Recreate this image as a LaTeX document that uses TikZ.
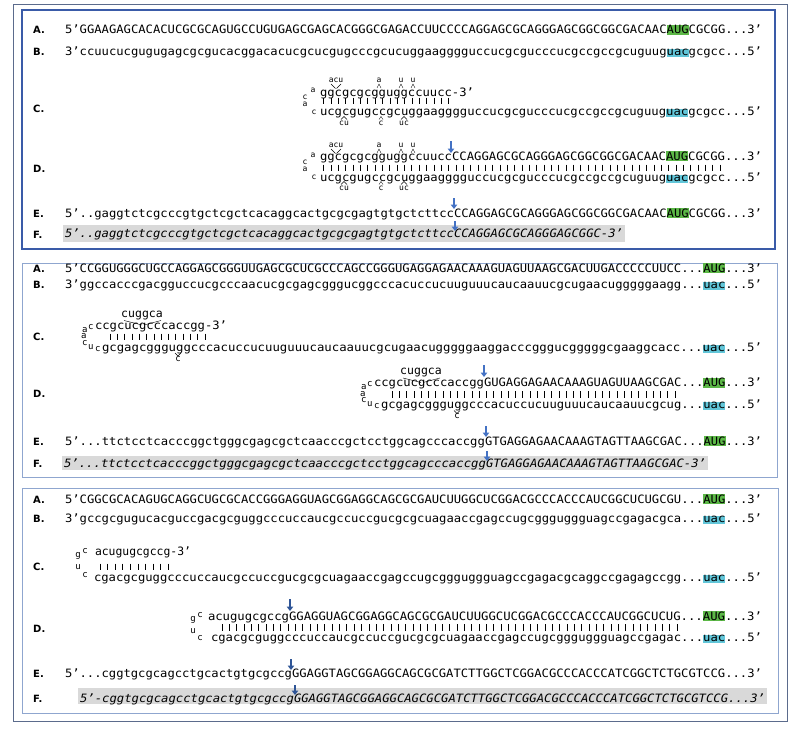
\documentclass[tikz,border=0pt]{standalone}
\usepackage{fontspec}
\setmainfont{DejaVu Sans}
\setmonofont[Ligatures=TeX]{DejaVu Sans Mono}
\usepackage{graphicx}
\usetikzlibrary{arrows.meta}
\definecolor{augg}{HTML}{5CB847}
\definecolor{uacc}{HTML}{62C6D9}
\definecolor{fgray}{HTML}{D9D9D9}
\definecolor{arrb}{HTML}{4472C4}
\definecolor{arrd}{HTML}{2F5597}
\definecolor{panA}{HTML}{3A5BA8}
\definecolor{panB}{HTML}{8FA6CF}
\definecolor{outerc}{HTML}{5B6B8C}
\newcommand\hlA[1]{{\setlength\fboxsep{0pt}\colorbox{augg}{\rule[-1.2pt]{0pt}{9.8pt}#1}}}
\newcommand\hlU[1]{{\setlength\fboxsep{0pt}\colorbox{uacc}{\rule[-1.8pt]{0pt}{8pt}#1}}}
\newcommand\seqline[5]{\pgfmathsetlengthmacro\sqw{(#3)-(#2)}\node[seqn] (#1) at (#2,#4) {\resizebox{\sqw}{\height}{#5}};}
\newcommand\rowlab[3]{\node[labn] (#1) at (33,#2) {#3};}
\newcommand\hpl[3]{\node[smn] at (#1,#2) {#3};}
\newcommand\lpl[3]{\node[lpn] at (#1,#2) {#3};}
\newcommand\lpat[3]{\makebox[0pt][l]{\hspace*{#1pt}\raisebox{#2pt}{#3}}}
\newcommand\pairbars[4]{\foreach \i in {0,...,#4} \draw[barl] ({#1+\i*((#2-#1)/#4)},#3) -- ++(0,6.5);}
\newcommand\cutarrow[4]{\draw[arrw,#4] (#1,#2) -- (#1,#3);}
\tikzset{
 seqn/.style={anchor=base west, inner sep=0pt, outer sep=0pt, font=\ttfamily\fontsize{11.5}{13}\selectfont},
 labn/.style={anchor=base west, inner sep=0pt, font=\bfseries\fontsize{10}{12}\selectfont},
 smn/.style={inner sep=0pt, font=\ttfamily\fontsize{8}{9}\selectfont},
 lpn/.style={inner sep=0pt, font=\ttfamily\fontsize{9}{10}\selectfont},
 barl/.style={line width=0.55pt},
 wedge/.style={line width=0.4pt},
 arrw/.style={line width=1.4pt, -{Triangle[length=4.5pt,width=6.5pt]}},
 frameA/.style={draw=panA, line width=1.3pt},
 frameB/.style={draw=panB, line width=1pt},
 outerl/.style={draw=outerc, line width=1pt},
}
\newcommand\hpA{%
 \hpl{313}{90}{a}\hpl{305}{97}{c}\hpl{305}{104}{a}\hpl{314}{112}{c}
 \hpl{336}{80}{acu}\draw[wedge] (331,84)--(335.5,88.5) (341,84)--(336.5,88.5);
 \hpl{379}{80}{a}\draw[wedge] (377,88)--(379,84)--(381,88);
 \hpl{401}{80}{u}\draw[wedge] (399,88)--(401,84)--(403,88);
 \hpl{413}{80}{u}\draw[wedge] (411,88)--(413,84)--(415,88);
 \hpl{344}{123}{cu}\draw[wedge] (341,119.5)--(344,116.5)--(347,119.5);
 \hpl{381}{123}{c}\draw[wedge] (379,119.5)--(381,116.5)--(383,119.5);
 \hpl{404}{123}{uc}\draw[wedge] (401,119.5)--(404,116.5)--(407,119.5);
}
\newcommand\hpB{%
 \node[seqn,anchor=center] at (142,315.5) {cuggca};
 \draw[wedge] (124,320.5)--(142,325) (161,320.5)--(144,325);
 \node[lpn,anchor=base west] at (80.3,351) {\lpat{1}{19}{a}\lpat{7}{22}{c}\lpat{0}{12.5}{a}\lpat{1}{6}{c}\lpat{7}{2}{u}\lpat{14}{0}{c}};
 \lpl{178}{359}{c}\draw[wedge] (175,353)--(178,356)--(181,353);
}
\begin{document}
\begin{tikzpicture}[x=1pt,y=-1pt]
\useasboundingbox (0,0) rectangle (800,728);
\fill[white] (0,0) rectangle (800,728);
\draw[outerl] (13,4) rectangle (787,721);
% ---------------- panel 1
\draw[frameA] (22,10) rectangle (775,249);
\rowlab{p1A}{33.5}{A.}\rowlab{p1B}{55.5}{B.}\rowlab{p1C}{112}{C.}
\rowlab{p1D}{172}{D.}\rowlab{p1E}{217}{E.}\rowlab{p1F}{238}{F.}
\seqline{p1a}{65}{762}{33.5}{5'GGAAGAGCACACUCGCGCAGUGCCUGUGAGCGAGCACGGGCGAGACCUUCCCCAGGAGCGCAGGGAGCGGCGGCGACAAC\hlA{AUG}CGCGG...3'}
\seqline{p1b}{65}{762}{55.5}{3'ccuucucgugugagcgcgucacggacacucgcucgugcccgcucuggaagggguccucgcgucccucgccgccgcuguug\hlU{uac}gcgcc...5'}
\seqline{p1ct}{320}{474}{96}{ggcgcgcgguggccuucc-3'}
\pairbars{323.7}{448.5}{97.5}{17}
\seqline{p1cb}{320}{762}{115}{ucgcgugccgcuggaagggguccucgcgucccucgccgccgcuguug\hlU{uac}gcgcc...5'}
\hpA
\begin{scope}[shift={(0,65)}]\hpA\end{scope}
\seqline{p1dt1}{320}{452}{160}{ggcgcgcgguggccuucc}
\seqline{p1dt2}{452}{762}{160}{CCAGGAGCGCAGGGAGCGGCGGCGACAAC\hlA{AUG}CGCGG...3'}
\pairbars{323.7}{720}{164.5}{54}
\seqline{p1db}{320}{762}{181}{ucgcgugccgcuggaagggguccucgcgucccucgccgccgcuguug\hlU{uac}gcgcc...5'}
\cutarrow{451}{141}{153}{arrb}
\seqline{p1e1}{65}{454}{217}{5'..gaggtctcgcccgtgctcgctcacaggcactgcgcgagtgtgctcttcc}
\seqline{p1e2}{454}{762}{217}{CCAGGAGCGCAGGGAGCGGCGGCGACAAC\hlA{AUG}CGCGG...3'}
\cutarrow{454}{198}{209}{arrb}
\fill[fgray] (63,225) rectangle (625,242);
\seqline{p1f1}{65}{454}{237}{\itshape 5'..gaggtctcgcccgtgctcgctcacaggcactgcgcgagtgtgctcttcc}
\seqline{p1f2}{454}{623}{237}{\itshape CCAGGAGCGCAGGGAGCGGC-3'}
\cutarrow{455}{221}{231}{arrb}
% ---------------- panel 2
\draw[frameB] (22,263) rectangle (777,477);
\rowlab{p2A}{272}{A.}\rowlab{p2B}{288}{B.}\rowlab{p2C}{340}{C.}
\rowlab{p2D}{397}{D.}\rowlab{p2E}{445}{E.}\rowlab{p2F}{467}{F.}
\seqline{p2a}{65}{762}{272}{5'CCGGUGGGCUGCCAGGAGCGGGUUGAGCGCUCGCCCAGCCGGGUGAGGAGAACAAAGUAGUUAAGCGACUUGACCCCCUUCC...\hlA{AUG}...3'}
\seqline{p2b}{65}{762}{288}{3'ggccacccgacgguccucgcccaacucgcgagcgggucggcccacuccucuuguuucaucaauucgcugaacugggggaagg...\hlU{uac}...5'}
\hpB
\seqline{p2ct}{95}{227}{329}{ccgcucgcccaccgg-3'}
\pairbars{110}{205}{333.5}{13}
\seqline{p2cb}{102}{762}{351}{gcgagcggguggcccacuccucuuguuucaucaauucgcugaacugggggaaggacccgggucgggggcgaaggcacc...\hlU{uac}...5'}
% D
\begin{scope}[shift={(279,57.5)}]\hpB\end{scope}
\seqline{p2dt1}{374}{484}{386.5}{ccgcucgcccaccgg}
\seqline{p2dt2}{484}{762}{386.5}{GUGAGGAGAACAAAGUAGUUAAGCGAC...\hlA{AUG}...3'}
\pairbars{392}{675}{391}{39}
\seqline{p2db}{381}{762}{408.5}{gcgagcggguggcccacuccucuuguuucaucaauucgcug...\hlU{uac}...5'}
\cutarrow{484}{365}{377}{arrb}
\seqline{p2e1}{65}{485}{445}{5'...ttctcctcacccggctgggcgagcgctcaacccgctcctggcagcccaccgg}
\seqline{p2e2}{485}{762}{445}{GTGAGGAGAACAAAGTAGTTAAGCGAC...\hlA{AUG}...3'}
\cutarrow{486}{426}{437}{arrb}
\fill[fgray] (62,456) rectangle (708,470);
\seqline{p2f1}{64}{486}{467}{\itshape 5'...ttctcctcacccggctgggcgagcgctcaacccgctcctggcagcccaccgg}
\seqline{p2f2}{486}{706}{467}{\itshape GTGAGGAGAACAAAGTAGTTAAGCGAC-3'}
\cutarrow{487}{451}{461}{arrb}
% ---------------- panel 3
\draw[frameB] (22,488) rectangle (778,713);
\rowlab{p3A}{503}{A.}\rowlab{p3B}{522}{B.}\rowlab{p3C}{570}{C.}
\rowlab{p3D}{632}{D.}\rowlab{p3E}{677}{E.}\rowlab{p3F}{702}{F.}
\seqline{p3a}{65}{762}{503}{5'CGGCGCACAGUGCAGGCUGCGCACCGGGAGGUAGCGGAGGCAGCGCGAUCUUGGCUCGGACGCCCACCCAUCGGCUCUGCGU...\hlA{AUG}...3'}
\seqline{p3b}{65}{762}{522}{3'gccgcgugucacguccgacgcguggcccuccaucgccuccgucgcgcuagaaccgagccugcggguggguagccgagacgca...\hlU{uac}...5'}
\lpl{85}{551}{c}\lpl{78}{556}{g}\lpl{78}{567}{u}\lpl{85}{575}{c}
\seqline{p3ct}{95}{191}{555}{acugugcgccg-3'}
\pairbars{100}{168}{563.5}{9}
\seqline{p3cb}{94}{762}{581}{cgacgcguggcccuccaucgccuccgucgcgcuagaaccgagccugcggguggguagccgagacgcaggccgagagccgg...\hlU{uac}...5'}
\lpl{200}{615}{c}\lpl{193}{620}{g}\lpl{193}{631}{u}\lpl{200}{638}{c}
\seqline{p3dt1}{208}{289}{620}{acugugcgccg}
\seqline{p3dt2}{289}{762}{620}{GGAGGUAGCGGAGGCAGCGCGAUCUUGGCUCGGACGCCCACCCAUCGGCUCUG...\hlA{AUG}...3'}
\pairbars{222}{677}{624}{62}
\seqline{p3db}{211}{762}{641}{cgacgcguggcccuccaucgccuccgucgcgcuagaaccgagccugcggguggguagccgagac...\hlU{uac}...5'}
\cutarrow{290}{599}{611}{arrd}
\seqline{p3e1}{65}{292}{677}{5'...cggtgcgcagcctgcactgtgcgccg}
\seqline{p3e2}{292}{762}{677}{GGAGGTAGCGGAGGCAGCGCGATCTTGGCTCGGACGCCCACCCATCGGCTCTGCGTCCG...3'}
\cutarrow{291}{659}{670}{arrd}
\fill[fgray] (78,688) rectangle (767,704);
\seqline{p3f1}{80}{294}{702}{\itshape 5'-cggtgcgcagcctgcactgtgcgccg}
\seqline{p3f2}{294}{765}{702}{\itshape GGAGGTAGCGGAGGCAGCGCGATCTTGGCTCGGACGCCCACCCATCGGCTCTGCGTCCG...3'}
\cutarrow{295}{685}{695}{arrd}
\end{tikzpicture}
\end{document}
